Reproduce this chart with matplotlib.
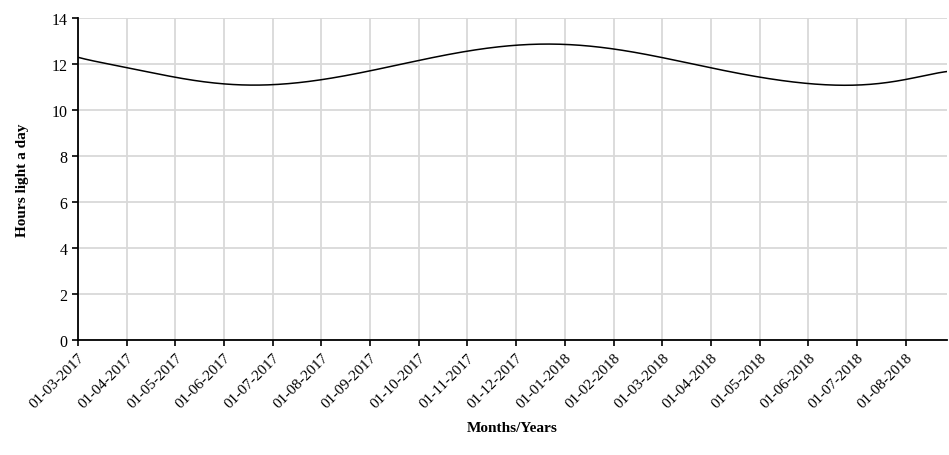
import numpy as np
import matplotlib.pyplot as plt

plt.rcParams['font.family'] = ['Liberation Serif', 'DejaVu Serif']

# month positions (0 = 01-03-2017) and read-off day lengths
months = [0, 1, 2, 3, 3.65, 4, 5, 6, 7, 8, 9, 9.65, 10, 11, 12,
          13, 14, 15, 15.65, 16, 17, 17.85]
hours = [12.30, 11.85, 11.43, 11.15, 11.08, 11.10, 11.33, 11.72, 12.15, 12.55,
         12.83, 12.90, 12.86, 12.62, 12.30, 11.85, 11.43, 11.15, 11.08, 11.10,
         11.33, 11.68]
tick_labels = ["01-03-2017", "01-04-2017", "01-05-2017", "01-06-2017", "01-07-2017",
               "01-08-2017", "01-09-2017", "01-10-2017", "01-11-2017", "01-12-2017",
               "01-01-2018", "01-02-2018", "01-03-2018", "01-04-2018", "01-05-2018",
               "01-06-2018", "01-07-2018", "01-08-2018"]

x = np.array(months)
xf = np.linspace(x[0], x[-1], 600)
coef = np.polyfit((x - x.mean()) / 10, hours, 11)
yf = np.polyval(coef, (xf - x.mean()) / 10)

fig = plt.figure(figsize=(9.49, 4.56), dpi=100)
ax = fig.add_axes([0.082, 0.252, 0.916, 0.706])
ax.plot(xf, yf, color='black', lw=1.1)
ax.set_xlim(x[0], x[-1])
ax.set_ylim(0, 14)
ax.set_yticks(range(0, 15, 2))
ax.set_xticks(range(len(tick_labels)))
ax.set_xticklabels(tick_labels, rotation=45, ha='right', rotation_mode='anchor', fontsize=11)
ax.tick_params(axis='y', labelsize=11.5)
ax.tick_params(direction='out', length=4, width=1.2)
ax.grid(True, color='#d9d9d9', lw=1.3)
ax.set_axisbelow(True)
for s in ['top', 'right']:
    ax.spines[s].set_visible(False)
ax.spines['left'].set_linewidth(1.3)
ax.spines['bottom'].set_linewidth(1.3)
ax.set_ylabel("Hours light a day", fontweight='bold', fontsize=11, labelpad=16)
ax.set_xlabel("Months/Years", fontweight='bold', fontsize=11, labelpad=8)
fig.savefig("out.png")
